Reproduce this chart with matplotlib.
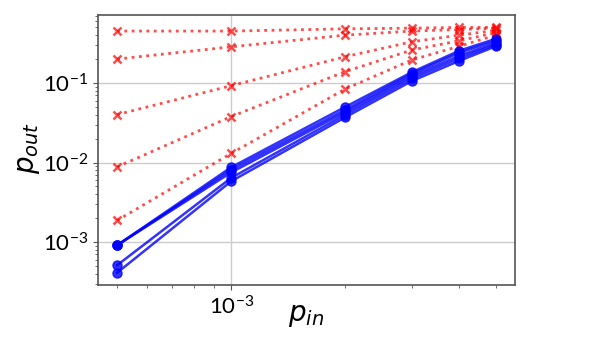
import numpy as np
import matplotlib
matplotlib.use('Agg')
import matplotlib.pyplot as plt

plt.rcParams['font.family'] = ['Lato', 'DejaVu Sans']
plt.rcParams['mathtext.fontset'] = 'dejavusans'
plt.rcParams['axes.unicode_minus'] = False

p_in = [5e-4, 1e-3, 2e-3, 3e-3, 4e-3, 5e-3]

# red dotted curves (x markers)
red1 = [0.45, 0.45, 0.48, 0.49, 0.50, 0.50]
red2 = [0.20, 0.285, 0.40, 0.45, 0.47, 0.49]
red3 = [0.040, 0.0925, 0.214, 0.33, 0.40, 0.46]
red4 = [0.0088, 0.0378, 0.139, 0.26, 0.34, 0.43]
red5 = [0.00187, 0.013, 0.084, 0.195, 0.29, 0.40]

# blue solid curves (circle markers)
blue1 = [0.00091, 0.0087, 0.050, 0.137, 0.255, 0.36]
blue2 = [0.00091, 0.0081, 0.046, 0.130, 0.240, 0.34]
blue3 = [0.00091, 0.0075, 0.043, 0.122, 0.220, 0.32]
blue4 = [0.00051, 0.0064, 0.040, 0.114, 0.205, 0.305]
blue5 = [0.00041, 0.0058, 0.037, 0.106, 0.190, 0.29]

fig = plt.figure(figsize=(5.98, 3.37), dpi=100)
ax = fig.add_axes([0.164, 0.154, 0.697, 0.801])

for yr in [red1, red2, red3, red4, red5]:
    ax.plot(p_in, yr, 'x:', color='red', alpha=0.7, lw=2, ms=6, mew=1.8)
for yb in [blue1, blue2, blue3, blue4, blue5]:
    ax.plot(p_in, yb, 'o-', color='blue', alpha=0.8, lw=1.8, ms=6.5)

ax.set_xscale('log')
ax.set_yscale('log')
ax.grid(True, which='major', color='#cccccc', lw=1)
ax.set_axisbelow(True)

ax.set_xlabel(r'$p_{in}$', fontsize=20, va='top')
ax.xaxis.set_label_coords(0.5, -0.065)
ax.set_ylabel(r'$p_{out}$', fontsize=20)
ax.yaxis.set_label_coords(-0.135, 0.51)
ax.tick_params(axis='both', which='major', labelsize=16, colors='#555555', labelcolor='black')
ax.tick_params(axis='both', which='minor', colors='#555555')
for s in ax.spines.values():
    s.set_color('#555555')
    s.set_linewidth(1.2)

fig.savefig('out.png', dpi=100)
